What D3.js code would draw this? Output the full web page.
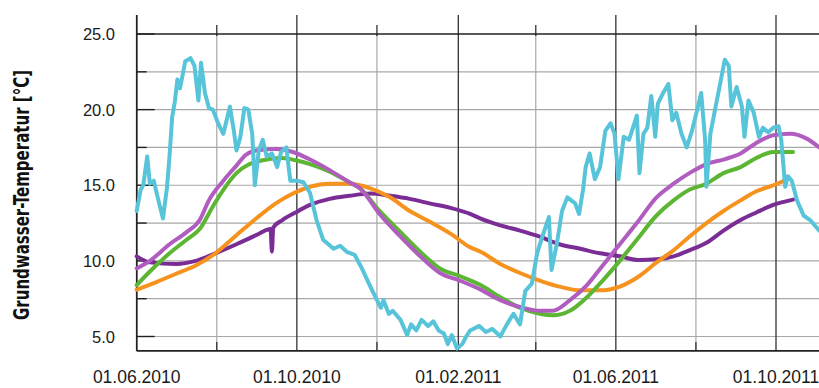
<!DOCTYPE html>
<html>
<head>
<meta charset="utf-8">
<script src="https://cdn.jsdelivr.net/npm/d3@7"></script>
<style>
  body { margin: 0; background: #fff; }
  svg { display: block; }
  .tick-label { font-family: "Liberation Sans", Arial, sans-serif; fill: #1a1a1a; }
  .title { font-family: "Liberation Sans Narrow", "DejaVu Sans Condensed", sans-serif; font-weight: bold; fill: #111; }
  .series { fill: none; stroke-linejoin: round; stroke-linecap: round; }
</style>
</head>
<body>
<svg></svg>
<script>
// days since 01.06.2010, temperature in °C
const startDate = new Date(Date.UTC(2010, 5, 1));

const cyan = [[0,13.3],[3,14.7],[5,15.0],[8,16.9],[10,15.1],[13,15.3],[16,14.2],[20,12.8],[23,14.8],[25,16.9],[27,19.5],[29,20.5],[31,22.0],[33,21.4],[37,23.2],[41,23.4],[44,22.9],[47,20.6],[49,23.1],[52,21.1],[55,20.1],[58,20.0],[62,19.1],[66,18.4],[71,20.2],[74,18.6],[76,17.3],[79,18.2],[82,20.1],[85,20.0],[88,18.4],[90,15.0],[93,17.3],[96,18.0],[99,16.9],[103,17.1],[107,16.2],[110,17.2],[114,17.5],[117,15.3],[122,15.3],[127,15.2],[132,14.5],[137,12.7],[142,11.4],[146,11.1],[150,10.8],[155,11.0],[160,10.6],[166,10.4],[171,9.6],[178,8.3],[183,7.4],[186,6.9],[188,7.4],[192,6.5],[195,6.7],[201,6.1],[206,5.1],[209,5.8],[213,5.4],[217,6.1],[222,5.7],[226,6.0],[230,5.4],[234,5.2],[237,4.5],[240,5.1],[244,4.2],[248,4.5],[251,5.0],[254,5.4],[261,5.7],[266,5.3],[271,5.5],[277,5.0],[282,5.8],[287,6.5],[292,5.8],[296,8.0],[301,8.5],[305,10.5],[309,11.6],[314,12.9],[316,9.4],[320,11.1],[324,13.3],[328,14.2],[334,13.8],[337,13.1],[340,14.7],[342,16.2],[345,17.1],[349,15.4],[353,16.2],[357,18.6],[361,19.1],[364,18.4],[367,15.4],[371,18.2],[375,18.0],[378,18.8],[381,19.6],[383,15.8],[386,18.4],[389,18.8],[392,20.9],[395,18.2],[397,20.4],[401,21.1],[405,21.7],[408,19.3],[411,19.8],[415,18.4],[419,17.5],[423,18.6],[427,20.0],[430,21.1],[433,18.0],[434,14.9],[437,18.4],[441,20.2],[444,21.5],[448,23.3],[451,22.9],[453,20.2],[457,21.5],[461,20.2],[463,18.2],[466,20.6],[470,19.8],[474,18.2],[477,18.8],[481,18.5],[485,18.8],[489,18.9],[491,18.0],[494,14.9],[496,15.6],[499,15.3],[503,14.0],[508,13.0],[513,12.7],[520,12.0]];

const magenta = [[0,9.5],[10,10.0],[25,11.1],[38,11.9],[48,12.7],[55,14.0],[66,15.3],[76,16.3],[83,17.0],[91,17.3],[106,17.4],[119,17.2],[132,16.7],[147,16.0],[162,15.2],[170,14.8],[185,13.1],[201,11.6],[216,10.3],[231,9.2],[246,8.7],[262,8.1],[277,7.4],[292,6.95],[307,6.7],[317,6.7],[330,7.4],[343,8.4],[355,9.7],[368,11.1],[381,12.5],[396,14.2],[409,15.1],[421,15.8],[434,16.4],[447,16.7],[460,17.1],[472,17.8],[485,18.3],[498,18.4],[510,18.1],[520,17.5]];

const green = [[0,8.4],[10,9.3],[25,10.5],[38,11.4],[48,12.1],[58,13.6],[66,14.7],[76,15.8],[86,16.4],[96,16.65],[111,16.8],[121,16.65],[132,16.4],[147,15.9],[162,15.2],[170,14.8],[185,13.3],[201,11.9],[216,10.6],[231,9.5],[246,9.0],[262,8.4],[277,7.6],[292,6.9],[307,6.5],[317,6.4],[330,6.7],[343,7.6],[355,8.7],[368,10.0],[381,11.4],[396,13.0],[409,14.0],[421,14.7],[434,15.1],[447,15.8],[460,16.2],[472,16.8],[485,17.2],[500,17.2]];

const orange = [[0,8.1],[15,8.6],[30,9.15],[45,9.7],[60,10.5],[76,11.7],[91,12.8],[106,13.8],[119,14.45],[132,14.9],[147,15.1],[162,15.1],[178,14.8],[193,14.2],[208,13.3],[223,12.6],[239,11.8],[254,10.9],[262,10.6],[277,9.8],[292,9.2],[307,8.7],[322,8.3],[338,8.05],[353,8.05],[368,8.3],[383,9.0],[396,9.9],[409,10.7],[421,11.6],[434,12.5],[447,13.3],[460,14.0],[472,14.6],[485,15.0],[493,15.3]];

const purple = [[0,10.3],[10,9.9],[30,9.8],[45,10.0],[60,10.5],[76,11.1],[91,11.7],[102,12.1],[103,10.6],[104,12.2],[111,12.7],[121,13.2],[132,13.7],[147,14.1],[162,14.3],[178,14.45],[193,14.3],[208,14.1],[223,13.8],[239,13.5],[254,13.1],[262,12.8],[277,12.35],[292,12.0],[307,11.6],[322,11.1],[338,10.8],[353,10.5],[368,10.3],[383,10.05],[396,10.1],[409,10.3],[421,10.7],[434,11.2],[447,12.0],[460,12.7],[472,13.2],[485,13.7],[500,14.05]];

const yTicks = [5, 7.5, 10, 12.5, 15, 17.5, 20, 22.5, 25];
const yLabels = ["5.0", "", "10.0", "", "15.0", "", "20.0", "", "25.0"];
const yTitle = "Grundwasser-Temperatur [°C]";

const width = 819;
const height = 388;
const plotLeft = 136.7, plotBottom = 350.9, plotTop = 34;

var svg = d3.select("svg").attr("width", width).attr("height", height);

var x = d3.scaleTime()
  .domain([startDate, new Date(Date.UTC(2011, 9, 1))])
  .range([plotLeft, 776]);
var y = d3.scaleLinear().domain([5, 25]).range([336.5, plotTop]);

var endDate = x.invert(width + 5);
// a line every two months, a label every four (starting 01.06.2010)
var months = d3.utcMonth.range(startDate, endDate, 2);
var isMajor = d => d3.utcMonth.count(startDate, d) % 4 === 0;

var grid = svg.append("g");

// horizontal grid + inside ticks
grid.selectAll("line.h")
  .data(yTicks.slice(0, -1))
  .enter().append("line")
  .attr("x1", plotLeft).attr("x2", width)
  .attr("y1", d => y(d)).attr("y2", d => y(d))
  .attr("stroke", "#a8a8a8").attr("stroke-width", 1.2);

grid.selectAll("line.ht")
  .data(yTicks)
  .enter().append("line")
  .attr("x1", plotLeft)
  .attr("x2", (d, i) => plotLeft + (yLabels[i] ? 18 : 10))
  .attr("y1", d => y(d)).attr("y2", d => y(d))
  .attr("stroke", "#222").attr("stroke-width", 1.4);

// vertical grid
grid.selectAll("line.v")
  .data(months)
  .enter().append("line")
  .attr("x1", d => x(d)).attr("x2", d => x(d))
  .attr("y1", d => isMajor(d) ? 15 : plotTop)
  .attr("y2", plotBottom)
  .attr("stroke", d => isMajor(d) ? "#333" : "#a8a8a8")
  .attr("stroke-width", d => isMajor(d) ? 1.3 : 1.2);

grid.selectAll("line.vt")
  .data(months.filter(d => !isMajor(d)))
  .enter().append("line")
  .attr("x1", d => x(d)).attr("x2", d => x(d))
  .attr("y1", 25).attr("y2", plotTop + 2)
  .attr("stroke", "#333").attr("stroke-width", 1.3);

grid.selectAll("line.vb")
  .data(months.filter(d => !isMajor(d)))
  .enter().append("line")
  .attr("x1", d => x(d)).attr("x2", d => x(d))
  .attr("y1", plotBottom - 9).attr("y2", plotBottom)
  .attr("stroke", "#333").attr("stroke-width", 1.3);

// frame
svg.append("line").attr("x1", plotLeft).attr("x2", width).attr("y1", y(25)).attr("y2", y(25))
  .attr("stroke", "#222").attr("stroke-width", 1.5);
svg.append("line").attr("x1", plotLeft).attr("x2", width).attr("y1", plotBottom).attr("y2", plotBottom)
  .attr("stroke", "#222").attr("stroke-width", 1.6);
svg.append("line").attr("x1", plotLeft).attr("x2", plotLeft).attr("y1", 15).attr("y2", plotBottom)
  .attr("stroke", "#222").attr("stroke-width", 1.6);

// labels
svg.selectAll("text.yl")
  .data(yTicks.filter((d, i) => yLabels[i]))
  .enter().append("text")
  .attr("class", "tick-label")
  .attr("x", 115)
  .attr("y", d => y(d) + 6)
  .attr("text-anchor", "end")
  .style("font-size", "16.5px")
  .text(d => yLabels[yTicks.indexOf(d)]);

var fmt = d3.utcFormat("%d.%m.%Y");
svg.selectAll("text.xl")
  .data(months.filter(d => isMajor(d)))
  .enter().append("text")
  .attr("class", "tick-label")
  .attr("x", d => x(d))
  .attr("y", 383)
  .attr("text-anchor", "middle")
  .style("font-size", "17.5px")
  .text(d => fmt(d));

svg.append("text")
  .attr("class", "title")
  .attr("transform", "translate(29,195) rotate(-90)")
  .attr("text-anchor", "middle")
  .attr("textLength", 250)
  .attr("lengthAdjust", "spacingAndGlyphs")
  .style("font-size", "21px")
  .text(yTitle);

// series
var line = d3.line()
  .x(d => x(d3.utcDay.offset(startDate, d[0])))
  .y(d => y(d[1]));

var series = [
  { data: purple, color: "#7b2d96" },
  { data: orange, color: "#f6921e" },
  { data: green, color: "#5cb634" },
  { data: magenta, color: "#b05dbf" },
  { data: cyan, color: "#57c4d9", linear: true }
];

svg.selectAll("path.series")
  .data(series)
  .enter().append("path")
  .attr("class", "series")
  .attr("stroke", d => d.color)
  .attr("stroke-width", 4)
  .attr("d", d => line.curve(d.linear ? d3.curveLinear : d3.curveMonotoneX)(d.data));
</script>
</body>
</html>
